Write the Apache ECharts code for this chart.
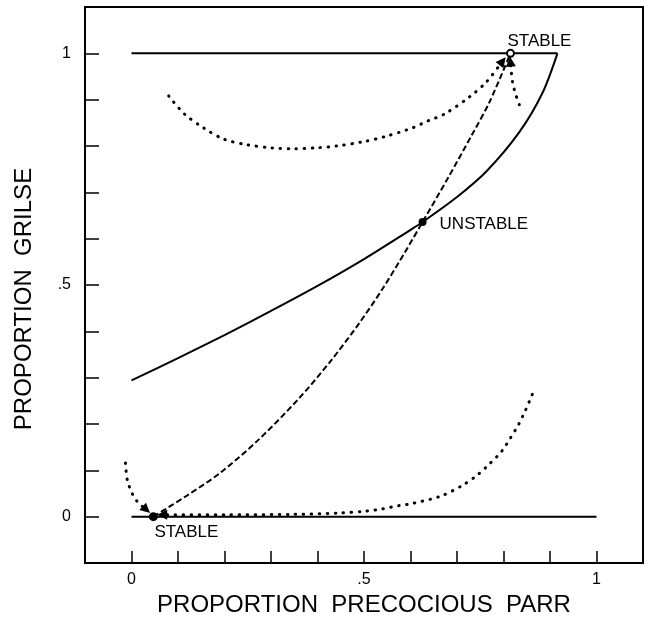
<!DOCTYPE html>
<html>
<head>
<meta charset="utf-8">
<script src="https://cdn.jsdelivr.net/npm/echarts@6/dist/echarts.min.js"></script>
<style>
html, body { margin: 0; padding: 0; background: #fff; }
#chart { width: 649px; height: 622px; }
</style>
</head>
<body>
<div id="chart"></div>
<script>
// Equilibria of the two-strategy system
const stableLow = [0.047, 0];
const unstablePt = [0.626, 0.636];
const stableHigh = [0.815, 1.0];

// Bounding lines at proportion 1 and 0
const upperEdge = [[0, 1], [0.916, 1]];
const lowerEdge = [[0, 0], [1, 0]];

// Solid isocline
const isocline = [
  [0, 0.294], [0.1, 0.342], [0.2, 0.392], [0.3, 0.444], [0.4, 0.498],
  [0.5, 0.556], [0.6, 0.619], [0.626, 0.636], [0.7, 0.69], [0.763, 0.745],
  [0.834, 0.83], [0.884, 0.915], [0.916, 1.0]
];

// Dashed separatrix through the unstable point
const separatrix = [
  [0.047, 0], [0.12, 0.046], [0.19, 0.094], [0.27, 0.163], [0.36, 0.255],
  [0.43, 0.338], [0.49, 0.418], [0.54, 0.492], [0.59, 0.574], [0.626, 0.636],
  [0.68, 0.73], [0.731, 0.822], [0.77, 0.895], [0.815, 1.0]
];

// Dotted trajectories, listed in the direction of travel
const trajUpper = [
  [0.08, 0.908], [0.114, 0.869], [0.155, 0.839], [0.198, 0.815], [0.247, 0.803],
  [0.301, 0.796], [0.346, 0.794], [0.398, 0.796], [0.441, 0.80], [0.497, 0.809],
  [0.544, 0.82], [0.604, 0.839], [0.637, 0.854], [0.673, 0.869], [0.727, 0.906],
  [0.763, 0.938], [0.798, 0.983]
];
const trajUpperRight = [
  [0.834, 0.889], [0.826, 0.912], [0.82, 0.935], [0.817, 0.958], [0.815, 0.982]
];
const trajLowerLeft = [
  [-0.013, 0.116], [-0.009, 0.079], [0.002, 0.049], [0.013, 0.032], [0.032, 0.015]
];
const trajLowerRight = [
  [0.862, 0.264], [0.847, 0.229], [0.832, 0.198], [0.815, 0.17], [0.796, 0.141],
  [0.77, 0.114], [0.744, 0.09], [0.714, 0.069], [0.667, 0.045], [0.602, 0.028],
  [0.576, 0.024], [0.54, 0.017], [0.505, 0.012], [0.45, 0.008], [0.35, 0.005],
  [0.2, 0.004], [0.09, 0.004], [0.066, 0.004]
];

// Labelled tick values
const tickValues = [0, 0.5, 1];
const tickText = ['0', '.5', '1'];

const FONT = '"Liberation Sans", Arial, Helvetica, sans-serif';

function tickFormatter(v) {
  for (let i = 0; i < tickValues.length; i++) {
    if (Math.abs(v - tickValues[i]) < 1e-6) return tickText[i];
  }
  return '';
}

const dotted = { color: '#000', width: 3, type: [0.5, 7.5], cap: 'round' };

function curve(data, lineStyle, z) {
  return {
    type: 'line', data: data, smooth: 0.3, showSymbol: false, symbol: 'none',
    lineStyle: lineStyle, silent: true, z: z || 2, animation: false
  };
}

function pointLabel(text, extra) {
  return Object.assign({
    show: true, formatter: text, fontSize: 17, color: '#000', fontFamily: FONT
  }, extra);
}

// Arrowheads at the end of each dotted trajectory
const arrowData = [trajUpper, trajUpperRight, trajLowerLeft, trajLowerRight].map(t => ({
  coords: [t[t.length - 2], t[t.length - 1]]
}));

const chart = echarts.init(document.getElementById('chart'), null, { renderer: 'canvas' });

chart.setOption({
  animation: false,
  backgroundColor: '#fff',
  grid: {
    left: 85, top: 7, width: 558, height: 558,
    show: true, borderColor: '#000', borderWidth: 2, backgroundColor: 'transparent'
  },
  xAxis: {
    type: 'value', min: -0.1, max: 1.1, interval: 0.1,
    axisLine: { show: true, onZero: false, lineStyle: { color: '#000', width: 2 } },
    axisTick: { show: true, inside: true, length: 12, lineStyle: { color: '#000', width: 1.5 } },
    axisLabel: { formatter: tickFormatter, fontSize: 16, color: '#000', margin: 9, fontFamily: FONT },
    splitLine: { show: false },
    name: 'PROPORTION  PRECOCIOUS  PARR',
    nameLocation: 'middle', nameGap: 30,
    nameTextStyle: { fontSize: 24, color: '#000', fontFamily: FONT, verticalAlign: 'top' }
  },
  yAxis: {
    type: 'value', min: -0.1, max: 1.1, interval: 0.1,
    axisLine: { show: true, onZero: false, lineStyle: { color: '#000', width: 2 } },
    axisTick: { show: true, inside: true, length: 14, lineStyle: { color: '#000', width: 1.5 } },
    axisLabel: { formatter: tickFormatter, fontSize: 16, color: '#000', margin: 14, fontFamily: FONT },
    splitLine: { show: false }
  },
  graphic: [{
    type: 'text', x: 24, y: 299, rotation: Math.PI / 2,
    style: {
      text: 'PROPORTION  GRILSE', fontSize: 24, fontFamily: FONT, fill: '#000',
      align: 'center', verticalAlign: 'middle'
    }
  }],
  series: [
    curve(upperEdge, { color: '#000', width: 2 }),
    curve(lowerEdge, { color: '#000', width: 2 }),
    curve(isocline, { color: '#000', width: 2 }),
    curve(separatrix, { color: '#000', width: 2, type: [6, 3] }),
    curve(trajUpper, dotted),
    curve(trajUpperRight, dotted),
    curve(trajLowerLeft, dotted),
    curve(trajLowerRight, dotted),
    {
      type: 'lines', coordinateSystem: 'cartesian2d', silent: true, animation: false,
      symbol: ['none', 'triangle'], symbolSize: [7, 10],
      lineStyle: { color: '#000', width: 0, opacity: 1 },
      data: arrowData, z: 3
    },
    {
      type: 'scatter', silent: true, animation: false, z: 5,
      itemStyle: { opacity: 1 },
      data: [
        {
          value: stableHigh, symbol: 'circle', symbolSize: 7,
          itemStyle: { color: '#fff', borderColor: '#000', borderWidth: 2, opacity: 1 },
          label: pointLabel('STABLE', { position: 'top', distance: 0, offset: [29, 1] })
        },
        {
          value: unstablePt, symbol: 'circle', symbolSize: 8,
          itemStyle: { color: '#000', opacity: 1 },
          label: pointLabel('UNSTABLE', { position: 'right', distance: 13, offset: [0, 2] })
        },
        {
          value: stableLow, symbol: 'circle', symbolSize: 9,
          itemStyle: { color: '#000', opacity: 1 },
          label: pointLabel('STABLE', { position: 'bottom', distance: 2, offset: [33, 1] })
        }
      ]
    }
  ]
});
</script>
</body>
</html>
